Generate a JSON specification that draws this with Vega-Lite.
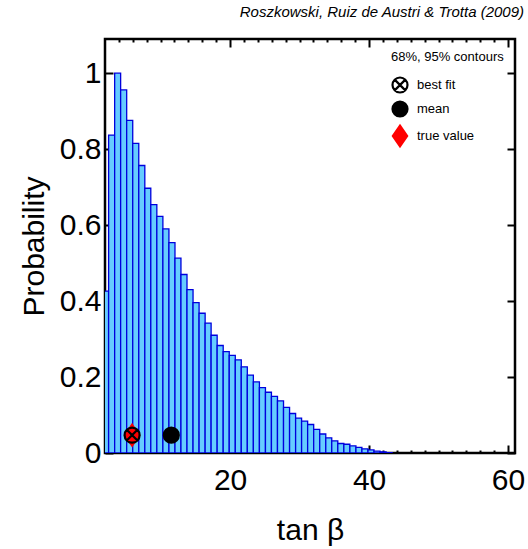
{
  "$schema": "https://vega.github.io/schema/vega-lite/v6.json",
  "width": 410,
  "height": 414,
  "autosize": "none",
  "padding": {"left": 105, "top": 39, "right": 13, "bottom": 96},
  "config": {
    "font": "Liberation Sans",
    "view": {"stroke": "black", "strokeWidth": 2.5},
    "axis": {"grid": false, "domain": false, "tickColor": "black", "tickWidth": 2, "labelColor": "black", "titleColor": "black", "titleFontWeight": "normal", "labelFlush": false, "labelOverlap": false}
  },
  "title": {"text": "Roszkowski, Ruiz de Austri & Trotta (2009)", "anchor": "end", "frame": "group", "fontSize": 15, "fontStyle": "italic", "fontWeight": "normal", "offset": 18, "dx": 9, "color": "black"},
  "datasets": {
    "bins": [
      {"lo": 1.65, "hi": 2.52, "p": 0.426},
      {"lo": 2.52, "hi": 3.39, "p": 0.837},
      {"lo": 3.39, "hi": 4.25, "p": 1.0},
      {"lo": 4.25, "hi": 5.12, "p": 0.956},
      {"lo": 5.12, "hi": 5.99, "p": 0.876},
      {"lo": 5.99, "hi": 6.86, "p": 0.815},
      {"lo": 6.86, "hi": 7.73, "p": 0.757},
      {"lo": 7.73, "hi": 8.59, "p": 0.697},
      {"lo": 8.59, "hi": 9.46, "p": 0.654},
      {"lo": 9.46, "hi": 10.33, "p": 0.623},
      {"lo": 10.33, "hi": 11.2, "p": 0.59},
      {"lo": 11.2, "hi": 12.07, "p": 0.554},
      {"lo": 12.07, "hi": 12.93, "p": 0.513},
      {"lo": 12.93, "hi": 13.8, "p": 0.47},
      {"lo": 13.8, "hi": 14.67, "p": 0.43},
      {"lo": 14.67, "hi": 15.54, "p": 0.396},
      {"lo": 15.54, "hi": 16.41, "p": 0.368},
      {"lo": 16.41, "hi": 17.27, "p": 0.342},
      {"lo": 17.27, "hi": 18.14, "p": 0.31},
      {"lo": 18.14, "hi": 19.01, "p": 0.283},
      {"lo": 19.01, "hi": 19.88, "p": 0.267},
      {"lo": 19.88, "hi": 20.75, "p": 0.257},
      {"lo": 20.75, "hi": 21.61, "p": 0.245},
      {"lo": 21.61, "hi": 22.48, "p": 0.227},
      {"lo": 22.48, "hi": 23.35, "p": 0.205},
      {"lo": 23.35, "hi": 24.22, "p": 0.187},
      {"lo": 24.22, "hi": 25.09, "p": 0.172},
      {"lo": 25.09, "hi": 25.95, "p": 0.16},
      {"lo": 25.95, "hi": 26.82, "p": 0.149},
      {"lo": 26.82, "hi": 27.69, "p": 0.137},
      {"lo": 27.69, "hi": 28.56, "p": 0.12},
      {"lo": 28.56, "hi": 29.43, "p": 0.104},
      {"lo": 29.43, "hi": 30.29, "p": 0.092},
      {"lo": 30.29, "hi": 31.16, "p": 0.084},
      {"lo": 31.16, "hi": 32.03, "p": 0.075},
      {"lo": 32.03, "hi": 32.9, "p": 0.062},
      {"lo": 32.9, "hi": 33.77, "p": 0.05},
      {"lo": 33.77, "hi": 34.63, "p": 0.04},
      {"lo": 34.63, "hi": 35.5, "p": 0.032},
      {"lo": 35.5, "hi": 36.37, "p": 0.025},
      {"lo": 36.37, "hi": 37.24, "p": 0.023},
      {"lo": 37.24, "hi": 38.11, "p": 0.019},
      {"lo": 38.11, "hi": 38.97, "p": 0.015},
      {"lo": 38.97, "hi": 39.84, "p": 0.011},
      {"lo": 39.84, "hi": 40.71, "p": 0.008},
      {"lo": 40.71, "hi": 41.58, "p": 0.005},
      {"lo": 41.58, "hi": 42.45, "p": 0.003},
      {"lo": 42.45, "hi": 43.31, "p": 0.001}
    ],
    "markers": [
      {"kind": "true value", "tanb": 5.9, "p": 0.047},
      {"kind": "best fit", "tanb": 5.9, "p": 0.047},
      {"kind": "mean", "tanb": 11.54, "p": 0.047}
    ]
  },
  "layer": [
    {
      "data": {"name": "bins"},
      "mark": {"type": "rect", "fill": "#66ccff", "stroke": "#0000dd", "strokeWidth": 1.3, "clip": true},
      "encoding": {
        "x": {"field": "lo", "type": "quantitative", "scale": {"domain": [2, 61], "nice": false, "zero": false},
          "axis": {"orient": "bottom", "values": [20, 40, 60], "tickSize": -8, "labelFontSize": 30, "labelPadding": 20, "title": "tan β", "titleFontSize": 30, "titlePadding": 20}},
        "x2": {"field": "hi"},
        "y": {"field": "p", "type": "quantitative", "scale": {"domain": [0, 1.09], "nice": false},
          "axis": {"orient": "left", "values": [0, 0.2, 0.4, 0.6, 0.8, 1], "format": "~g", "tickSize": -8, "labelFontSize": 30, "labelPadding": 12, "title": "Probability", "titleFontSize": 30, "titlePadding": 10}},
        "y2": {"datum": 0}
      }
    },
    {
      "data": {"name": "bins"},
      "mark": {"type": "rect", "opacity": 0},
      "encoding": {
        "x": {"field": "lo", "type": "quantitative", "scale": {"domain": [2, 61], "nice": false, "zero": false},
          "axis": {"orient": "bottom", "values": [4, 6, 8, 10, 12, 14, 16, 18, 22, 24, 26, 28, 30, 32, 34, 36, 38, 42, 44, 46, 48, 50, 52, 54, 56, 58], "tickSize": -3, "labels": false, "title": null}},
        "x2": {"field": "hi"},
        "y": {"field": "p", "type": "quantitative", "scale": {"domain": [0, 1.09], "nice": false},
          "axis": {"orient": "right", "values": [0, 0.2, 0.4, 0.6, 0.8, 1], "tickSize": -8, "labels": false, "title": null}},
        "y2": {"datum": 0}
      }
    },
    {
      "data": {"name": "bins"},
      "mark": {"type": "rect", "opacity": 0},
      "encoding": {
        "x": {"field": "lo", "type": "quantitative", "scale": {"domain": [2, 61], "nice": false, "zero": false},
          "axis": {"orient": "top", "values": [20, 40, 60], "tickSize": -8, "labels": false, "title": null}},
        "x2": {"field": "hi"},
        "y": {"field": "p", "type": "quantitative", "scale": {"domain": [0, 1.09], "nice": false}, "axis": null},
        "y2": {"datum": 0}
      }
    },
    {
      "data": {"name": "bins"},
      "mark": {"type": "rect", "opacity": 0},
      "encoding": {
        "x": {"field": "lo", "type": "quantitative", "scale": {"domain": [2, 61], "nice": false, "zero": false},
          "axis": {"orient": "top", "values": [4, 6, 8, 10, 12, 14, 16, 18, 22, 24, 26, 28, 30, 32, 34, 36, 38, 42, 44, 46, 48, 50, 52, 54, 56, 58], "tickSize": -3, "labels": false, "title": null}},
        "x2": {"field": "hi"},
        "y": {"field": "p", "type": "quantitative", "scale": {"domain": [0, 1.09], "nice": false}, "axis": null},
        "y2": {"datum": 0}
      }
    },
    {
      "data": {"name": "markers"},
      "mark": {"type": "point", "size": 225, "strokeWidth": 2.2, "opacity": 1},
      "encoding": {
        "x": {"field": "tanb", "type": "quantitative", "scale": {"domain": [2, 61], "nice": false, "zero": false}, "axis": null},
        "y": {"field": "p", "type": "quantitative", "scale": {"domain": [0, 1.09], "nice": false}, "axis": null},
        "shape": {"field": "kind", "type": "nominal",
          "scale": {"domain": ["best fit", "mean", "true value"], "range": ["M-1,0A1,1,0,1,1,1,0A1,1,0,1,1,-1,0ZM-0.68,-0.68L0.68,0.68M-0.68,0.68L0.68,-0.68", "circle", "M0,-1.38L0.95,0L0,1.38L-0.95,0Z"]},
          "legend": {"title": "68%, 95% contours", "orient": "none", "legendX": 286, "legendY": 12, "titleFontSize": 13, "titleFontWeight": "normal", "titleColor": "black", "labelFontSize": 13, "labelColor": "black", "labelOffset": 8, "rowPadding": 0, "titlePadding": 12, "symbolStrokeWidth": 2.2, "symbolSize": 225}},
        "fill": {"field": "kind", "type": "nominal",
          "scale": {"domain": ["best fit", "mean", "true value"], "range": ["transparent", "black", "red"]},
          "legend": {"title": "68%, 95% contours", "orient": "none", "legendX": 286, "legendY": 12, "titleFontSize": 13, "titleFontWeight": "normal", "titleColor": "black", "labelFontSize": 13, "labelColor": "black", "labelOffset": 8, "rowPadding": 0, "titlePadding": 12, "symbolStrokeWidth": 2.2, "symbolSize": 225}},
        "stroke": {"field": "kind", "type": "nominal",
          "scale": {"domain": ["best fit", "mean", "true value"], "range": ["black", "black", "red"]},
          "legend": {"title": "68%, 95% contours", "orient": "none", "legendX": 286, "legendY": 12, "titleFontSize": 13, "titleFontWeight": "normal", "titleColor": "black", "labelFontSize": 13, "labelColor": "black", "labelOffset": 8, "rowPadding": 0, "titlePadding": 12, "symbolStrokeWidth": 2.2, "symbolSize": 225}}
      }
    }
  ],
  "resolve": {"axis": {"x": "independent", "y": "independent"}}
}
